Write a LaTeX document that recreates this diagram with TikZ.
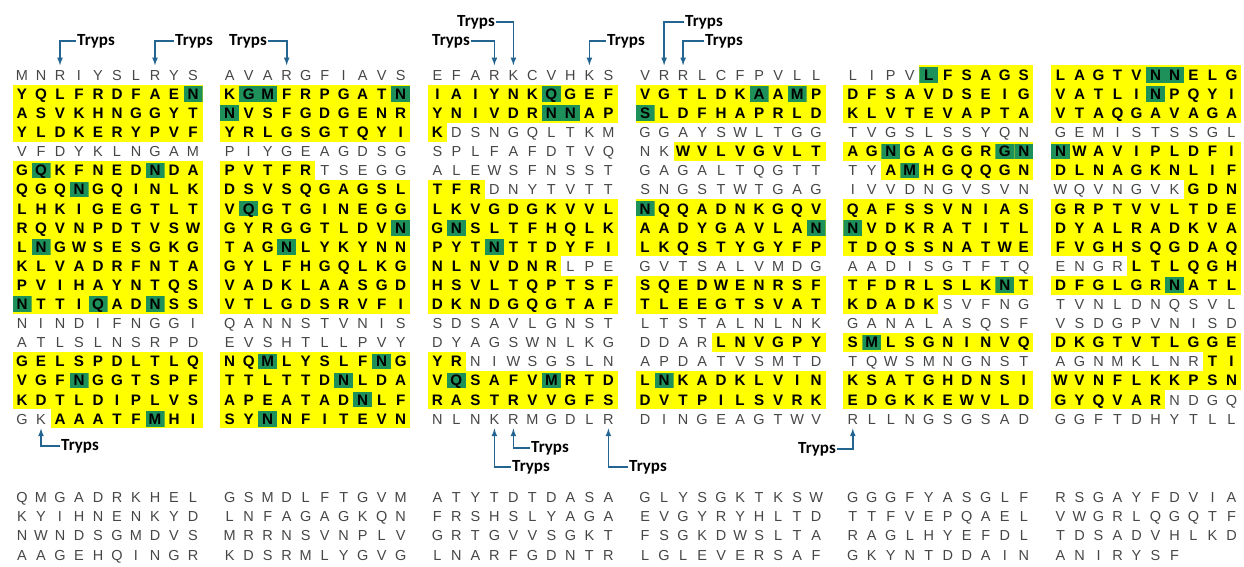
\documentclass[tikz,border=0pt]{standalone}
\usepackage{fontspec}
\setmainfont{Liberation Sans}
\newfontfamily\trypsfont{Carlito}

\definecolor{hlyellow}{RGB}{255,255,0}
\definecolor{hlgreen}{RGB}{30,145,90}
\definecolor{trypsblue}{RGB}{35,100,145}
\definecolor{resgray}{RGB}{70,70,70}

\tikzset{
  res/.style={inner sep=0pt, minimum width=19pt, minimum height=19.1pt,
    text height=10.6pt, text depth=0pt, font=\fontsize{14.5}{14.5}\selectfont},
  plainres/.style={res, text=resgray},
  yellowres/.style={res, fill=hlyellow, font=\fontsize{15.2}{15.2}\selectfont\bfseries},
  greenres/.style={yellowres, path picture={\fill[hlgreen]
    ([yshift=1.8pt]path picture bounding box.south west) rectangle
    ([yshift=-1.8pt]path picture bounding box.north east);}},
  trylabel/.style={inner sep=1pt, font=\trypsfont\bfseries\fontsize{17}{17}\selectfont},
  tryarrow/.style={draw=trypsblue, line width=1.6pt, -latex},
}

% one row of ten residues: column, row, letters, codes (0 plain, 1 yellow, 2 green)
\makeatletter
\newcount\sq@k
\def\seqrow#1#2#3#4{%
  \def\sq@col{#1}\def\sq@row{#2}\def\sq@codes{#4}%
  \sq@k=0
  \sq@next#3\@nil}
\def\sq@next#1{%
  \ifx#1\@nil\else
    \advance\sq@k by 1
    \expandafter\sq@popcode\sq@codes\@nil
    \sq@put{#1}%
    \expandafter\sq@next
  \fi}
\def\sq@popcode#1#2\@nil{\def\sq@hl{#1}\def\sq@codes{#2}}
\def\sq@put#1{%
  \pgfmathsetmacro\sq@x{22+207.7*(\sq@col-1)+19*(\the\sq@k-1)}%
  \pgfmathsetmacro\sq@y{\sq@row<20 ? 75+19.1*(\sq@row-1) : 497+19.3*(\sq@row-20)}%
  \ifcase\sq@hl\relax
    \node[plainres] (s-\sq@col-\sq@row-\the\sq@k) at (\sq@x,\sq@y) {#1};
  \or
    \node[yellowres] (s-\sq@col-\sq@row-\the\sq@k) at (\sq@x,\sq@y) {#1};
  \or
    \node[greenres] (s-\sq@col-\sq@row-\the\sq@k) at (\sq@x,\sq@y) {#1};
  \fi}
\makeatother

\begin{document}
\begin{tikzpicture}[x=1pt,y=-1pt]
  \useasboundingbox (0,0) rectangle (1244,566);

  % first block
  \seqrow{1}{1}{MNRIYSLRYS}{0000000000}
  \seqrow{1}{2}{YQLFRDFAEN}{1111111112}
  \seqrow{1}{3}{ASVKHNGGYT}{1111111111}
  \seqrow{1}{4}{YLDKERYPVF}{1111111111}
  \seqrow{1}{5}{VFDYKLNGAM}{0000000000}
  \seqrow{1}{6}{GQKFNEDNDA}{1211111211}
  \seqrow{1}{7}{QGQNGQINLK}{1112111111}
  \seqrow{1}{8}{LHKIGEGTLT}{1111111111}
  \seqrow{1}{9}{RQVNPDTVSW}{1111111111}
  \seqrow{1}{10}{LNGWSESGKG}{1211111111}
  \seqrow{1}{11}{KLVADRFNTA}{1111111111}
  \seqrow{1}{12}{PVIHAYNTQS}{1111111111}
  \seqrow{1}{13}{NTTIQADNSS}{2111211211}
  \seqrow{1}{14}{NINDIFNGGI}{0000000000}
  \seqrow{1}{15}{ATLSLNSRPD}{0000000000}
  \seqrow{1}{16}{GELSPDLTLQ}{1111111111}
  \seqrow{1}{17}{VGFNGGTSPF}{1112111111}
  \seqrow{1}{18}{KDTLDIPLVS}{1111111111}
  \seqrow{1}{19}{GKAAATFMHI}{0011111211}

  \seqrow{2}{1}{AVARGFIAVS}{0000000000}
  \seqrow{2}{2}{KGMFRPGATN}{1221111112}
  \seqrow{2}{3}{NVSFGDGENR}{2111111111}
  \seqrow{2}{4}{YRLGSGTQYI}{1111111111}
  \seqrow{2}{5}{PIYGEAGDSG}{0000000000}
  \seqrow{2}{6}{PVTFRTSEGG}{1111100000}
  \seqrow{2}{7}{DSVSQGAGSL}{1111111111}
  \seqrow{2}{8}{VQGTGINEGG}{1211111111}
  \seqrow{2}{9}{GYRGGTLDVN}{1111111112}
  \seqrow{2}{10}{TAGNLYKYNN}{1112111111}
  \seqrow{2}{11}{GYLFHGQLKG}{1111111111}
  \seqrow{2}{12}{VADKLAASGD}{1111111111}
  \seqrow{2}{13}{VTLGDSRVFI}{1111111111}
  \seqrow{2}{14}{QANNSTVNIS}{0000000000}
  \seqrow{2}{15}{EVSHTLLPVY}{0000000000}
  \seqrow{2}{16}{NQMLYSLFNG}{1121111121}
  \seqrow{2}{17}{TTLTTDNLDA}{1111112111}
  \seqrow{2}{18}{APEATADNLF}{1111111211}
  \seqrow{2}{19}{SYNNFITEVN}{1121111111}

  \seqrow{3}{1}{EFARKCVHKS}{0000000000}
  \seqrow{3}{2}{IAIYNKQGEF}{1111112111}
  \seqrow{3}{3}{YNIVDRNNAP}{1111112211}
  \seqrow{3}{4}{KDSNGQLTKM}{1000000000}
  \seqrow{3}{5}{SPLFAFDTVQ}{0000000000}
  \seqrow{3}{6}{ALEWSFNSST}{0000000000}
  \seqrow{3}{7}{TFRDNYTVTT}{1110000000}
  \seqrow{3}{8}{LKVGDGKVVL}{1111111111}
  \seqrow{3}{9}{GNSLTFHQLK}{1211111111}
  \seqrow{3}{10}{PYTNTTDYFI}{1112111111}
  \seqrow{3}{11}{NLNVDNRLPE}{1111111000}
  \seqrow{3}{12}{HSVLTQPTSF}{1111111111}
  \seqrow{3}{13}{DKNDGQGTAF}{1111111111}
  \seqrow{3}{14}{SDSAVLGNST}{0000000000}
  \seqrow{3}{15}{DYAGSWNLKG}{0000000000}
  \seqrow{3}{16}{YRNIWSGSLN}{1100000000}
  \seqrow{3}{17}{VQSAFVMRTD}{1211112111}
  \seqrow{3}{18}{RASTRVVGFS}{1111111111}
  \seqrow{3}{19}{NLNKRMGDLR}{0000000000}

  \seqrow{4}{1}{VRRLCFPVLL}{0000000000}
  \seqrow{4}{2}{VGTLDKAAMP}{1111112121}
  \seqrow{4}{3}{SLDFHAPRLD}{2111111111}
  \seqrow{4}{4}{GGAYSWLTGG}{0000000000}
  \seqrow{4}{5}{NKWVLVGVLT}{0011111111}
  \seqrow{4}{6}{GAGALTQGTT}{0000000000}
  \seqrow{4}{7}{SNGSTWTGAG}{0000000000}
  \seqrow{4}{8}{NQQADNKGQV}{2111111111}
  \seqrow{4}{9}{AADYGAVLAN}{1111111112}
  \seqrow{4}{10}{LKQSTYGYFP}{1111111111}
  \seqrow{4}{11}{GVTSALVMDG}{0000000000}
  \seqrow{4}{12}{SQEDWENRSF}{1111111111}
  \seqrow{4}{13}{TLEEGTSVAT}{1111111111}
  \seqrow{4}{14}{LTSTALNLNK}{0000000000}
  \seqrow{4}{15}{DDARLNVGPY}{0000111111}
  \seqrow{4}{16}{APDATVSMTD}{0000000000}
  \seqrow{4}{17}{LNKADKLVIN}{1211111111}
  \seqrow{4}{18}{DVTPILSVRK}{1111111111}
  \seqrow{4}{19}{DINGEAGTWV}{0000000000}

  \seqrow{5}{1}{LIPVLFSAGS}{0000211111}
  \seqrow{5}{2}{DFSAVDSEIG}{1111111111}
  \seqrow{5}{3}{KLVTEVAPTA}{1111111111}
  \seqrow{5}{4}{TVGSLSSYQN}{0000000000}
  \seqrow{5}{5}{AGNGAGGRGN}{1121111122}
  \seqrow{5}{6}{TYAMHGQQGN}{0012111111}
  \seqrow{5}{7}{IVVDNGVSVN}{0000000000}
  \seqrow{5}{8}{QAFSSVNIAS}{1111111111}
  \seqrow{5}{9}{NVDKRATITL}{2111111111}
  \seqrow{5}{10}{TDQSSNATWE}{1111111111}
  \seqrow{5}{11}{AADISGTFTQ}{0000000000}
  \seqrow{5}{12}{TFDRLSLKNT}{1111111121}
  \seqrow{5}{13}{KDADKSVFNG}{1111100000}
  \seqrow{5}{14}{GANALASQSF}{0000000000}
  \seqrow{5}{15}{SMLSGNINVQ}{1211111111}
  \seqrow{5}{16}{TQWSMNGNST}{0000000000}
  \seqrow{5}{17}{KSATGHDNSI}{1111111111}
  \seqrow{5}{18}{EDGKKEWVLD}{1111111111}
  \seqrow{5}{19}{RLLNGSGSAD}{0000000000}

  \seqrow{6}{1}{LAGTVNNELG}{1111122111}
  \seqrow{6}{2}{VATLINPQYI}{1111121111}
  \seqrow{6}{3}{VTAQGAVAGA}{1111111111}
  \seqrow{6}{4}{GEMISTSSGL}{0000000000}
  \seqrow{6}{5}{NWAVIPLDFI}{2111111111}
  \seqrow{6}{6}{DLNAGKNLIF}{1111111111}
  \seqrow{6}{7}{WQVNGVKGDN}{0000000111}
  \seqrow{6}{8}{GRPTVVLTDE}{1111111111}
  \seqrow{6}{9}{DYALRADKVA}{1111111111}
  \seqrow{6}{10}{FVGHSQGDAQ}{1111111111}
  \seqrow{6}{11}{ENGRLTLQGH}{0000111111}
  \seqrow{6}{12}{DFGLGRNATL}{1111112111}
  \seqrow{6}{13}{TVNLDNQSVL}{0000000000}
  \seqrow{6}{14}{VSDGPVNISD}{0000000000}
  \seqrow{6}{15}{DKGTVTLGGE}{1111111111}
  \seqrow{6}{16}{AGNMKLNRTI}{0000000011}
  \seqrow{6}{17}{WVNFLKKPSN}{1111111111}
  \seqrow{6}{18}{GYQVARNDGQ}{1111110000}
  \seqrow{6}{19}{GGFTDHYTLL}{0000000000}

  % second block
  \seqrow{1}{20}{QMGADRKHEL}{0000000000}
  \seqrow{1}{21}{KYIHNENKYD}{0000000000}
  \seqrow{1}{22}{NWNDSGMDVS}{0000000000}
  \seqrow{1}{23}{AAGEHQINGR}{0000000000}
  \seqrow{2}{20}{GSMDLFTGVM}{0000000000}
  \seqrow{2}{21}{LNFAGAGKQN}{0000000000}
  \seqrow{2}{22}{MRRNSVNPLV}{0000000000}
  \seqrow{2}{23}{KDSRMLYGVG}{0000000000}
  \seqrow{3}{20}{ATYTDTDASA}{0000000000}
  \seqrow{3}{21}{FRSHSLYAGA}{0000000000}
  \seqrow{3}{22}{GRTGVVSGKT}{0000000000}
  \seqrow{3}{23}{LNARFGDNTR}{0000000000}
  \seqrow{4}{20}{GLYSGKTKSW}{0000000000}
  \seqrow{4}{21}{EVGYRYHLTD}{0000000000}
  \seqrow{4}{22}{FSGKDWSLTA}{0000000000}
  \seqrow{4}{23}{LGLEVERSAF}{0000000000}
  \seqrow{5}{20}{GGGFYASGLF}{0000000000}
  \seqrow{5}{21}{TTFVEPQAEL}{0000000000}
  \seqrow{5}{22}{RAGLHYEFDL}{0000000000}
  \seqrow{5}{23}{GKYNTDDAIN}{0000000000}
  \seqrow{6}{20}{RSGAYFDVIA}{0000000000}
  \seqrow{6}{21}{VWGRLQGQTF}{0000000000}
  \seqrow{6}{22}{TDSADVHLKD}{0000000000}
  \seqrow{6}{23}{ANIRYSF}{0000000}

  % trypsin sites above
  \node[trylabel] (t1) at (96,41) {Tryps};
  \node[trylabel] (t2) at (194,41) {Tryps};
  \node[trylabel] (t3) at (248,41) {Tryps};
  \node[trylabel] (t4) at (451,41) {Tryps};
  \node[trylabel] (t5) at (476,22) {Tryps};
  \node[trylabel] (t6) at (626,41) {Tryps};
  \node[trylabel] (t7) at (704,22) {Tryps};
  \node[trylabel] (t8) at (724,41) {Tryps};
  \draw[tryarrow] (t1.west) -| (s-1-1-3.north);
  \draw[tryarrow] (t2.west) -| (s-1-1-8.north);
  \draw[tryarrow] (t3.east) -| (s-2-1-4.north);
  \draw[tryarrow] (t4.east) -| (s-3-1-4.north);
  \draw[tryarrow] (t5.east) -| (s-3-1-5.north);
  \draw[tryarrow] (t6.west) -| (s-3-1-9.north);
  \draw[tryarrow] (t7.west) -| (s-4-1-2.north);
  \draw[tryarrow] (t8.west) -| (s-4-1-3.north);

  % trypsin sites below
  \node[trylabel] (b1) at (80,446) {Tryps};
  \node[trylabel] (b2) at (531,467) {Tryps};
  \node[trylabel] (b3) at (550,448) {Tryps};
  \node[trylabel] (b4) at (648,467) {Tryps};
  \node[trylabel] (b5) at (817,449) {Tryps};
  \draw[tryarrow] (b1.west) -| (s-1-19-2.south);
  \draw[tryarrow] (b2.west) -| (s-3-19-4.south);
  \draw[tryarrow] (b3.west) -| (s-3-19-5.south);
  \draw[tryarrow] (b4.west) -| (s-3-19-10.south);
  \draw[tryarrow] (b5.east) -| (s-5-19-1.south);
\end{tikzpicture}
\end{document}
